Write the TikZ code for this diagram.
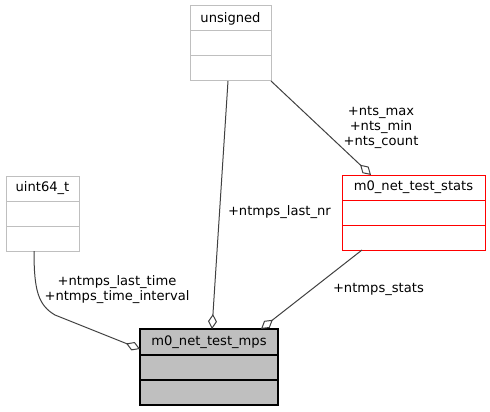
\documentclass[tikz,border=0pt]{standalone}
\usepackage{fontspec}
\setmainfont{DejaVu Sans}
\usetikzlibrary{arrows.meta}
\definecolor{edgegray}{HTML}{404040}
\definecolor{boxgray}{HTML}{BFBFBF}
\begin{document}
\begin{tikzpicture}[x=1pt,y=-1pt,
  every node/.style={font=\fontsize{13.1}{15}\selectfont, inner sep=0pt, outer sep=0pt},
  classbox/.style={draw=boxgray, fill=white, line width=1pt, rectangle},
  mainbox/.style={draw=black, fill=boxgray, line width=1.3pt, rectangle},
  redbox/.style={draw=red, fill=white, line width=1pt, rectangle},
  edge/.style={draw=edgegray, line width=1pt, -{Diamond[open, length=15pt, width=9pt, line width=1pt]}},
  lbl/.style={align=center, text=black}]
\useasboundingbox (0,0) rectangle (490,412);

% unsigned
\node[classbox, minimum width=81pt, minimum height=75pt] (uns) at (230.5,43.5) {};
\draw[boxgray, line width=1pt] (190,31) -- (271,31) (190,56) -- (271,56);
\node (unsT) at (230.5,18.5) {unsigned};

% uint64_t
\node[classbox, minimum width=73pt, minimum height=75pt] (u64) at (42.5,213.5) {};
\draw[boxgray, line width=1pt] (6,201) -- (79,201) (6,226) -- (79,226);
\node (u64T) at (42.5,188.5) {uint64\_t};

% m0_net_test_stats
\node[redbox, minimum width=143pt, minimum height=75pt] (stats) at (413.5,212.5) {};
\draw[red, line width=1pt] (342,200) -- (485,200) (342,225) -- (485,225);
\node (statsT) at (413.5,187.5) {m0\_net\_test\_stats};

% m0_net_test_mps
\node[mainbox, minimum width=138pt, minimum height=76pt] (mps) at (209,367) {};
\draw[black, line width=1.3pt] (140,355) -- (278,355) (140,380) -- (278,380);
\node (mpsT) at (209,342) {m0\_net\_test\_mps};

% coordinates on borders
\coordinate (u64s) at (34,251);
\coordinate (mpsW) at (140,349);
\coordinate (unsS) at (228,81);
\coordinate (mpsN1) at (212,329);
\coordinate (statsS) at (362,250);
\coordinate (mpsN2) at (261,329);
\coordinate (unsSE) at (271,81);
\coordinate (statsN) at (371,175);

\draw[edge] (u64s) .. controls (34,290) and (38,305) .. (55,315) -- (mpsW);
\draw[edge] (unsS) -- (mpsN1);
\draw[edge] (statsS) -- (mpsN2);
\draw[edge] (unsSE) -- (statsN);

% labels
\node[lbl] (l1) at (381,127) {+nts\_max\\+nts\_min\\+nts\_count};
\node[lbl, anchor=west] (l2) at (228,212) {+ntmps\_last\_nr};
\node[lbl] (l3) at (117,289.5) {+ntmps\_last\_time\\+ntmps\_time\_interval};
\node[lbl, anchor=west] (l4) at (333,289) {+ntmps\_stats};
\end{tikzpicture}
\end{document}
